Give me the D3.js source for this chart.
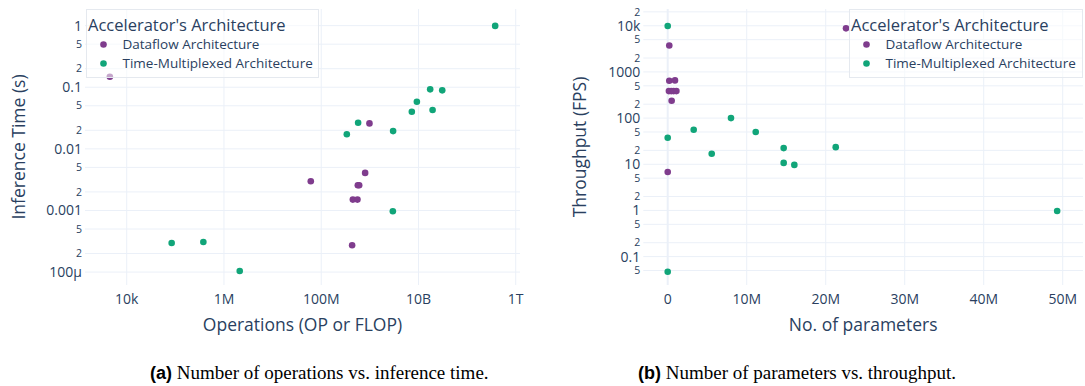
<!DOCTYPE html>
<html>
<head>
<meta charset="utf-8">
<script src="https://cdn.jsdelivr.net/npm/d3@7"></script>
<style>
  body { margin: 0; background: #fff; }
  svg { display: block; }
</style>
</head>
<body>
<svg width="1085" height="386"></svg>
<script>
// (a) operations vs inference time
const opsDataflow = [4.5e3, 61e6, 800e6, 566e6, 603e6, 447e6, 556e6, 432e6, 982e6];
const timeDataflow = [0.148, 0.00298, 0.00407, 0.00257, 0.00257, 0.0015, 0.0015, 0.000272, 0.0259];
const opsTimeMux = [84e3, 377e3, 2.11e6, 2.97e9, 378e9, 17.4e9, 30.8e9, 9.27e9, 7.3e9, 19.5e9, 574e6, 336e6, 3.01e9];
const timeTimeMux = [0.000296, 0.000307, 0.000104, 0.00097, 0.99, 0.0925, 0.089, 0.058, 0.040, 0.0426, 0.0265, 0.0173, 0.0194];

// (b) parameters vs throughput
const paramsDataflow = [0.2e6, 0.2e6, 0.92e6, 0.15e6, 0.45e6, 0.75e6, 1.1e6, 0.5e6, 0, 22.57e6];
const fpsDataflow = [3740, 646, 656, 384, 384, 384, 384, 237, 6.8, 8780];
const paramsTimeMux = [0, 8.01e6, 3.29e6, 11.14e6, 0, 5.57e6, 14.68e6, 21.27e6, 14.68e6, 16.03e6, 0, 49.3e6];
const fpsTimeMux = [9850, 100, 56, 50, 37.6, 16.9, 22.4, 23.5, 10.7, 9.7, 0.047, 0.97];

const seriesNames = ["Dataflow Architecture", "Time-Multiplexed Architecture"];
const seriesColors = ["rgb(127,60,141)", "rgb(17,165,121)"];
const legendTitle = "Accelerator's Architecture";

const logXTicksA = [1e4, 1e6, 1e8, 1e10, 1e12];
const linXTicksB = [0, 10e6, 20e6, 30e6, 40e6, 50e6];

const font = "'Open Sans', sans-serif";
const ink = "#2a3f5f";
const grid = "#ebf0f8";

var svg = d3.select("svg");

function siLabel(v) {
  const e = Math.round(Math.log10(v));
  if (e >= 12) return (v / 1e12) + "T";
  if (e >= 9) return (v / 1e9) + "B";
  if (e >= 6) return (v / 1e6) + "M";
  if (e >= 4) return (v / 1e3) + "k";
  if (e >= -3) return String(+v.toPrecision(3));
  return Math.round(v / 1e-6) + "\u03bc";
}

// log y ticks: 1,2,5 per decade
function logTicks(scale) {
  const [a, b] = scale.domain();
  const out = [];
  for (let e = Math.floor(Math.log10(a)); e <= Math.ceil(Math.log10(b)); e++) {
    [1, 2, 5].forEach(m => {
      const v = m * Math.pow(10, e);
      if (v >= a && v <= b) out.push({ v: v, m: m });
    });
  }
  return out;
}

function plot(cfg) {
  const g = svg.append("g");
  const x = cfg.x, y = cfg.y;
  const [x0, x1] = x.range();
  const [y1, y0] = y.range();

  // y grid + labels
  logTicks(y).forEach(t => {
    const py = y(t.v);
    g.append("line").attr("x1", x0).attr("x2", x1).attr("y1", py).attr("y2", py)
      .attr("stroke", grid).attr("stroke-width", 1);
    g.append("text")
      .attr("x", x0 - 3).attr("y", py)
      .attr("dy", "0.35em")
      .attr("text-anchor", "end")
      .attr("font-family", font)
      .attr("fill", ink)
      .style("font-size", t.m == 1 ? "14px" : "10.5px")
      .text(t.m == 1 ? siLabel(t.v) : String(t.m));
  });

  // x grid + labels
  cfg.xTicks.forEach(v => {
    const px = x(v);
    g.append("line").attr("x1", px).attr("x2", px).attr("y1", y0).attr("y2", y1)
      .attr("stroke", grid).attr("stroke-width", (cfg.zero && v == 0) ? 2 : 1);
    g.append("text")
      .attr("x", px).attr("y", y1 + 14)
      .attr("dy", "0.35em")
      .attr("text-anchor", "middle")
      .attr("font-family", font)
      .attr("fill", ink)
      .style("font-size", "14px")
      .text(cfg.xFormat(v));
  });

  // axis titles
  g.append("text")
    .attr("x", (x0 + x1) / 2).attr("y", y1 + 40)
    .attr("dy", "0.35em")
    .attr("text-anchor", "middle")
    .attr("font-family", font).attr("fill", ink)
    .style("font-size", "17.5px")
    .text(cfg.xTitle);
  g.append("text")
    .attr("transform", "translate(" + cfg.yTitleX + "," + ((y0 + y1) / 2) + ") rotate(-90)")
    .attr("dy", "0.35em")
    .attr("text-anchor", "middle")
    .attr("font-family", font).attr("fill", ink)
    .style("font-size", "17.5px")
    .text(cfg.yTitle);

  // points
  cfg.series.forEach((s, i) => {
    g.selectAll(null).data(d3.zip(s[0], s[1])).enter().append("circle")
      .attr("cx", d => x(d[0]))
      .attr("cy", d => y(d[1]))
      .attr("r", 3.3)
      .attr("fill", seriesColors[i]);
  });

  // legend
  const L = cfg.legend;
  g.append("rect")
    .attr("x", L.x).attr("y", L.y).attr("width", L.w).attr("height", 68)
    .attr("fill", "rgba(255,255,255,0.55)")
    .attr("stroke", "#e5e9ef").attr("stroke-width", 1);
  g.append("text")
    .attr("x", L.x + 1.5).attr("y", L.y + 16)
    .attr("dy", "0.35em")
    .attr("font-family", font).attr("fill", ink)
    .style("font-size", "16.5px")
    .text(legendTitle);
  seriesNames.forEach((n, i) => {
    const ry = L.y + 35 + i * 19;
    g.append("circle").attr("cx", L.x + 17).attr("cy", ry).attr("r", 3.3).attr("fill", seriesColors[i]);
    g.append("text")
      .attr("x", L.x + 36).attr("y", ry)
      .attr("dy", "0.35em")
      .attr("font-family", font).attr("fill", ink)
      .style("font-size", "13.5px")
      .text(n);
  });
}

plot({
  x: d3.scaleLog().domain([Math.pow(10, 3.142), Math.pow(10, 12.088)]).range([85, 520]),
  y: d3.scaleLog().domain([Math.pow(10, -4.21), Math.pow(10, 0.27)]).range([285, 9]),
  xTicks: logXTicksA,
  xFormat: siLabel,
  xTitle: "Operations (OP or FLOP)",
  yTitle: "Inference Time (s)",
  yTitleX: 19,
  series: [[opsDataflow, timeDataflow], [opsTimeMux, timeTimeMux]],
  legend: { x: 86.5, y: 9.5, w: 232 }
});

plot({
  x: d3.scaleLinear().domain([-3.09e6, 52.57e6]).range([643.3, 1083]),
  y: d3.scaleLog().domain([Math.pow(10, -1.615), Math.pow(10, 4.363)]).range([285, 9]),
  xTicks: linXTicksB,
  xFormat: v => v == 0 ? "0" : (v / 1e6) + "M",
  zero: true,
  xTitle: "No. of parameters",
  yTitle: "Throughput (FPS)",
  yTitleX: 580,
  series: [[paramsDataflow, fpsDataflow], [paramsTimeMux, fpsTimeMux]],
  legend: { x: 849.5, y: 9.5, w: 233 }
});

// captions
function caption(x, tag, rest) {
  const t = svg.append("text").attr("x", x).attr("y", 379).attr("fill", "#000");
  t.append("tspan").attr("font-family", "'Liberation Sans', Arial, sans-serif")
    .attr("font-weight", "bold").style("font-size", "18px").text(tag);
  t.append("tspan").attr("font-family", "'Liberation Serif', 'Times New Roman', serif")
    .style("font-size", "19px").text(" " + rest);
}
caption(150, "(a)", "Number of operations vs. inference time.");
caption(638, "(b)", "Number of parameters vs. throughput.");
</script>
</body>
</html>
